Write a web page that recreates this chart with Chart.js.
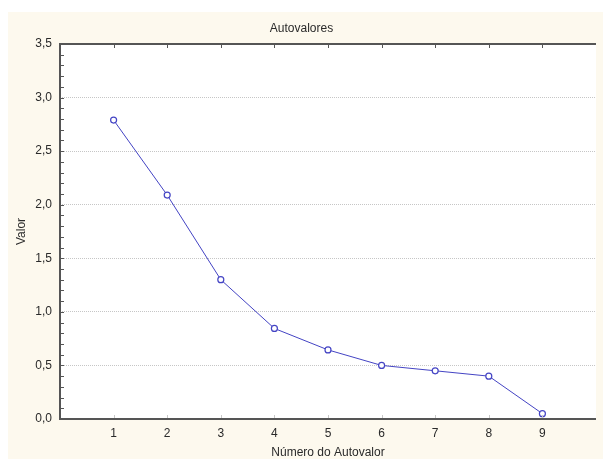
<!DOCTYPE html>
<html>
<head>
<meta charset="utf-8">
<script src="https://cdn.jsdelivr.net/npm/chart.js@4/dist/chart.umd.min.js"></script>
<style>
  html, body { margin: 0; padding: 0; background: #ffffff; }
  #wrap { width: 603px; height: 459px; }
</style>
</head>
<body>
<div id="wrap"><canvas id="chart" width="603" height="459"></canvas></div>
<script>
const eigenNumbers = [1, 2, 3, 4, 5, 6, 7, 8, 9];
const eigenValues = [2.79, 2.09, 1.30, 0.845, 0.645, 0.50, 0.45, 0.40, 0.05];
const chartTitle = 'Autovalores';
const xAxisTitle = 'Número do Autovalor';
const yAxisTitle = 'Valor';

const textColor = '#2a2a2a';
const axisColor = '#555555';
const lineColor = '#4444c4';
const creamColor = '#fdf9ee';

// comma as decimal separator
function formatValue(v) {
    return v.toFixed(1).replace('.', ',');
}

// cream frame behind the chart, plot area stays white
const backgroundPlugin = {
    id: 'background',
    beforeDraw(chart) {
        const { ctx, chartArea } = chart;
        ctx.save();
        ctx.fillStyle = '#ffffff';
        ctx.fillRect(0, 0, chart.width, chart.height);
        ctx.fillStyle = creamColor;
        ctx.fillRect(8, 12, chart.width - 8, chart.height - 12);
        ctx.fillStyle = '#ffffff';
        ctx.fillRect(chartArea.left, chartArea.top, chartArea.right - chartArea.left, chartArea.bottom - chartArea.top);
        ctx.restore();
    }
};

// small inside tick marks, axis lines and the top frame line
const frameTicksPlugin = {
    id: 'frameTicks',
    afterDraw(chart) {
        const { ctx, chartArea, scales } = chart;
        const x = scales.x;
        const y = scales.y;
        ctx.save();
        ctx.lineWidth = 1;

        ctx.strokeStyle = axisColor;
        ctx.beginPath();
        for (let i = 1; i < 35; i++) {
            const py = Math.round(y.getPixelForValue(i / 10)) + 0.5;
            ctx.moveTo(chartArea.left, py);
            ctx.lineTo(chartArea.left + 4, py);
        }
        eigenNumbers.forEach(n => {
            const px = Math.round(x.getPixelForValue(n)) + 0.5;
            ctx.moveTo(px, chartArea.top);
            ctx.lineTo(px, chartArea.top + 4);
        });
        ctx.stroke();

        ctx.strokeStyle = '#c8c8c8';
        ctx.beginPath();
        eigenNumbers.forEach(n => {
            const px = Math.round(x.getPixelForValue(n)) + 0.5;
            ctx.moveTo(px, chartArea.bottom - 4);
            ctx.lineTo(px, chartArea.bottom);
        });
        ctx.stroke();

        ctx.strokeStyle = axisColor;
        ctx.lineWidth = 2;
        ctx.beginPath();
        ctx.moveTo(chartArea.right, chartArea.top);
        ctx.lineTo(chartArea.left, chartArea.top);
        ctx.lineTo(chartArea.left, chartArea.bottom);
        ctx.lineTo(chartArea.right, chartArea.bottom);
        ctx.stroke();
        ctx.restore();
    }
};

new Chart(document.getElementById('chart'), {
    type: 'line',
    data: {
        datasets: [{
            label: yAxisTitle,
            data: eigenNumbers.map((n, i) => ({ x: n, y: eigenValues[i] })),
            borderColor: lineColor,
            borderWidth: 1,
            backgroundColor: '#ffffff',
            pointBackgroundColor: '#ffffff',
            pointBorderColor: lineColor,
            pointBorderWidth: 1.2,
            pointRadius: 3,
            tension: 0
        }]
    },
    options: {
        responsive: false,
        animation: false,
        layout: { padding: 0 },
        plugins: {
            legend: { display: false },
            tooltip: { enabled: false },
            title: {
                display: true,
                text: chartTitle,
                color: textColor,
                font: { family: 'Liberation Sans, Arial, sans-serif', size: 12, weight: 'normal' },
                padding: { top: 21, bottom: 8.6 }
            }
        },
        scales: {
            x: {
                type: 'linear',
                min: 0,
                max: 10,
                afterFit: scale => { scale.height = 40; },
                grid: { display: false, drawTicks: false },
                border: { display: false },
                ticks: {
                    stepSize: 1,
                    autoSkip: false,
                    padding: 7,
                    color: textColor,
                    font: { family: 'Liberation Sans, Arial, sans-serif', size: 12 },
                    callback: v => (v > 0 && v < 10 ? String(v) : '')
                },
                title: {
                    display: true,
                    text: xAxisTitle,
                    color: textColor,
                    font: { family: 'Liberation Sans, Arial, sans-serif', size: 12 },
                    padding: { top: 0, bottom: -1 }
                }
            },
            y: {
                min: 0,
                max: 3.5,
                afterFit: scale => { scale.width = 60; },
                grid: {
                    drawTicks: false,
                    color: ctx => (ctx.tick.value > 0 && ctx.tick.value < 3.5 ? '#c6c6c6' : 'rgba(0,0,0,0)'),
                    lineWidth: 1
                },
                border: { display: false, dash: [1, 1] },
                ticks: {
                    stepSize: 0.5,
                    padding: 8,
                    color: textColor,
                    font: { family: 'Liberation Sans, Arial, sans-serif', size: 12 },
                    callback: v => formatValue(v)
                },
                title: {
                    display: true,
                    text: yAxisTitle,
                    color: textColor,
                    font: { family: 'Liberation Sans, Arial, sans-serif', size: 12 },
                    padding: { top: 14, bottom: 0 }
                }
            }
        }
    },
    plugins: [backgroundPlugin, frameTicksPlugin]
});
</script>
</body>
</html>
